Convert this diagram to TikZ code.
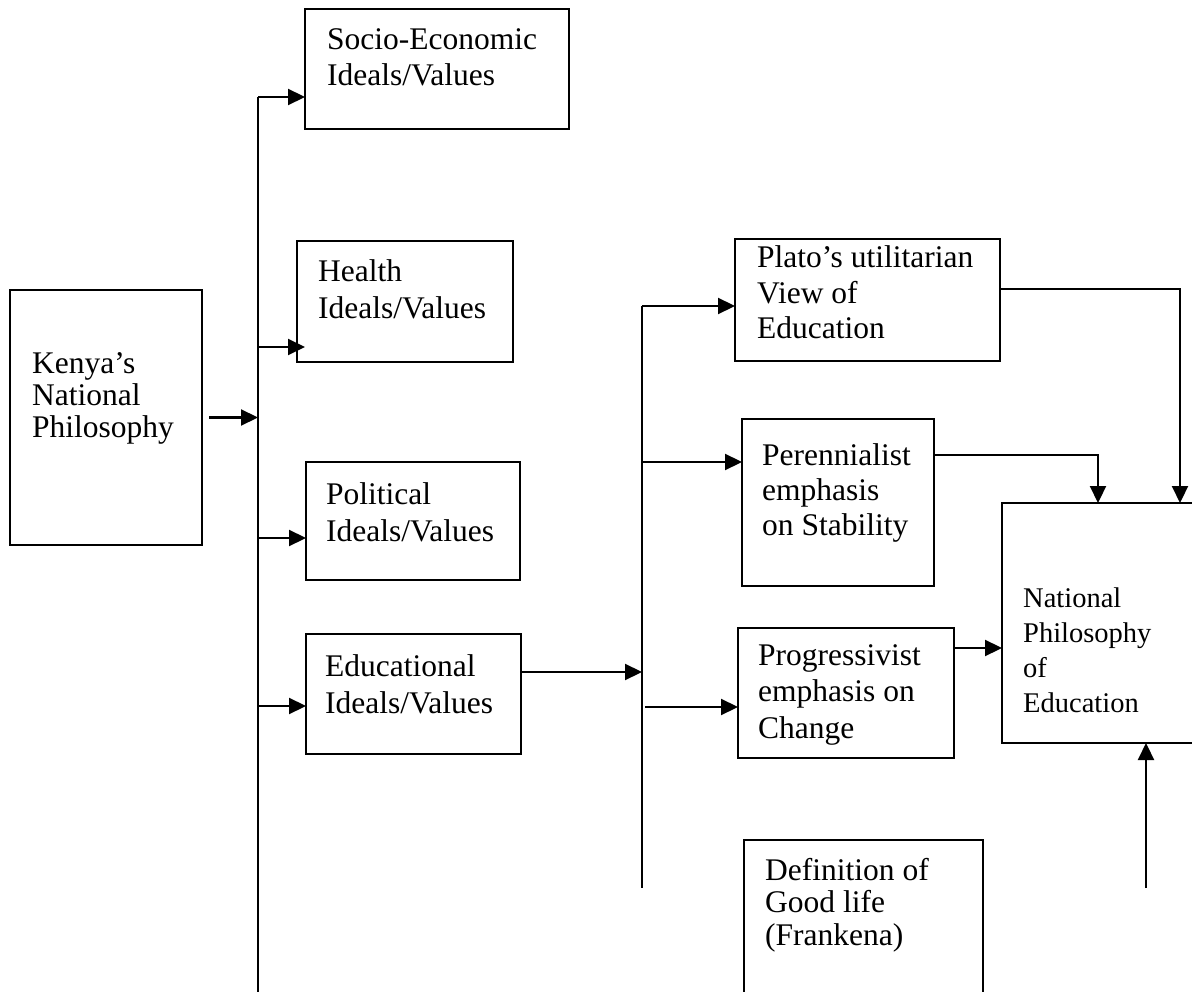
\documentclass[tikz,border=0pt]{standalone}
\usepackage{fontspec}
\setmainfont{Liberation Serif}
\usetikzlibrary{arrows.meta}
\tikzset{
  box/.style={draw, line width=1.8pt, inner sep=0pt, outer sep=0pt},
  lbl/.style={anchor=base west, align=left, inner sep=0pt, font=\fontsize{31.5}{36}\selectfont},
  arr/.style={line width=2.2pt, -{Triangle[length=17pt,width=16pt]}},
  ln/.style={line width=2.2pt}
}
\begin{document}
\begin{tikzpicture}[x=1pt,y=-1pt]
\clip (0,0) rectangle (1192,992);
\fill[white] (0,0) rectangle (1192,992);
% boxes
\node[box, minimum width=192pt, minimum height=255pt] (kenya) at (106,417.5) {};
\node[box, minimum width=264pt, minimum height=120pt] (socio) at (437,69) {};
\node[box, minimum width=216pt, minimum height=121pt] (health) at (405,301.5) {};
\node[box, minimum width=214pt, minimum height=118pt] (political) at (413,521) {};
\node[box, minimum width=215pt, minimum height=120pt] (educ) at (413.5,694) {};
\node[box, minimum width=265pt, minimum height=122pt] (plato) at (867.5,300) {};
\node[box, minimum width=192pt, minimum height=167pt] (peren) at (838,502.5) {};
\node[box, minimum width=216pt, minimum height=130pt] (progr) at (846,693) {};
\node[box, minimum width=208pt, minimum height=240pt] (natl) at (1106,623) {};
\node[box, minimum width=239pt, minimum height=170pt] (defin) at (863.5,925) {};
% texts (anchored at the baseline of the last line)
\node[lbl, font=\fontsize{31.5}{31.7}\selectfont] (tkenya) at (32,437) {Kenya’s\\National\\Philosophy};
\node[lbl] (tsocio) at (327,86) {Socio-Economic\\Ideals/Values};
\node[lbl, font=\fontsize{31.5}{37}\selectfont] (thealth) at (318,319) {Health\\Ideals/Values};
\node[lbl, font=\fontsize{31.5}{37}\selectfont] (tpolitical) at (326,541) {Political\\Ideals/Values};
\node[lbl, font=\fontsize{31.5}{37}\selectfont] (teduc) at (325,713) {Educational\\Ideals/Values};
\node[lbl, font=\fontsize{31.5}{35.5}\selectfont] (tplato) at (757,339) {Plato’s utilitarian\\View of\\Education};
\node[lbl, font=\fontsize{31.5}{35}\selectfont] (tperen) at (762,535) {Perennialist\\emphasis\\on Stability};
\node[lbl, font=\fontsize{31.5}{36.5}\selectfont] (tprogr) at (758,738) {Progressivist\\emphasis on\\Change};
\node[lbl, font=\fontsize{28.5}{34.7}\selectfont] (tnatl) at (1023,712) {National\\Philosophy\\of\\Education};
\node[lbl, font=\fontsize{31.5}{32.5}\selectfont] (tdefin) at (765,945) {Definition of\\Good life\\(Frankena)};
% bus coordinates
\coordinate (b1top) at (258,97);
\coordinate (b1bot) at (258,1000);
\coordinate (b1h) at (258,347);
\coordinate (b1p) at (258,538);
\coordinate (b1e) at (258,706);
\coordinate (b2top) at (642,306);
\coordinate (b2bot) at (642,888);
\coordinate (b2e) at (642,672);
\coordinate (b2p) at (642,462);
\coordinate (b2g) at (645,707);
\coordinate (pl) at (1180,289);
\coordinate (pe) at (1098,455);
\coordinate (pg) at (954,648);
\coordinate (bot) at (1146,888);
% connectors
\draw[ln] (b1top) -- (b1bot);
\draw[arr] ([xshift=7pt]kenya.east) -- (kenya.east -| b1top);
\draw[arr] (b1top) -- (b1top -| socio.west);
\draw[arr] (b1h) -- ([xshift=8pt]b1h -| health.west);
\draw[arr] (b1p) -- (b1p -| political.west);
\draw[arr] (b1e) -- (b1e -| educ.west);
\draw[arr] (b2e -| educ.east) -- (b2e);
\draw[ln] (b2top) -- (b2bot);
\draw[arr] (b2top) -- (b2top -| plato.west);
\draw[arr] (b2p) -- (b2p -| peren.west);
\draw[arr] (b2g) -- (b2g -| progr.west);
\draw[arr] (pl -| plato.east) -- (pl) -- (pl |- natl.north);
\draw[arr] (pe -| peren.east) -- (pe) -- (pe |- natl.north);
\draw[arr] (pg) -- (pg -| natl.west);
\draw[arr] (bot) -- (bot |- natl.south);
\end{tikzpicture}
\end{document}
